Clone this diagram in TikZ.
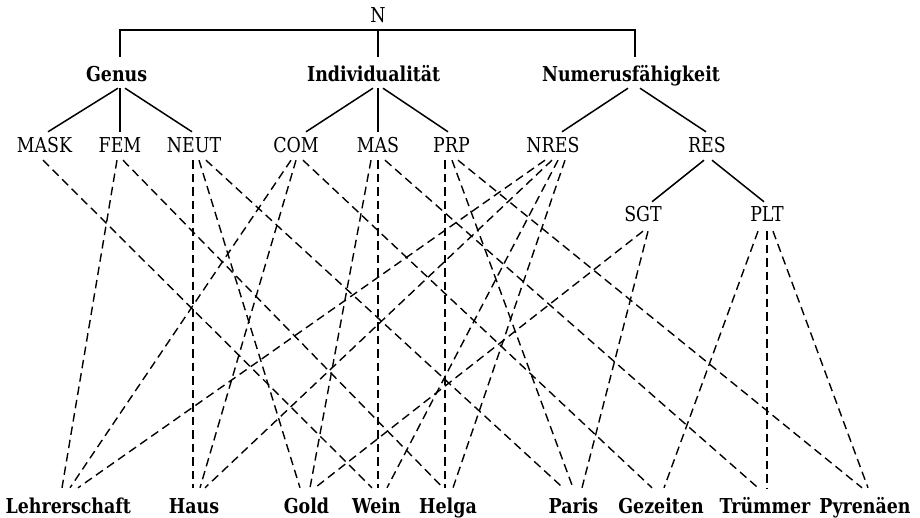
\documentclass[tikz,border=0pt]{standalone}
\usepackage{fontspec}
\setmainfont{DejaVu Serif}[FakeStretch=0.85]
\begin{document}
\begin{tikzpicture}[x=1pt,y=-1pt,
  lab/.style={inner sep=0pt, anchor=base, font=\fontsize{20.5}{24}\selectfont},
  bl/.style={lab, font=\fontsize{20.5}{24}\selectfont\bfseries},
  root/.style={lab, text height=15pt, text depth=7pt},
  cat/.style={bl, text height=25pt, text depth=6pt},
  feat/.style={lab, text height=21pt, text depth=7pt},
  sub/.style={lab, text height=20pt, text depth=9pt},
  leaf/.style={bl, text height=25pt, text depth=5pt},
  tree/.style={line width=1.5pt},
  dl/.style={line width=1.4pt, dash pattern=on 8.5pt off 5pt}]
\useasboundingbox (0,0) rectangle (920,518);
% nodes
\node[root] (N) at (378,23) {N};
\node[cat] (Gen) at (116.6,82) {Genus};
\node[cat] (Ind) at (373.7,82) {Individualität};
\node[cat] (Num) at (631,82) {Numerusfähigkeit};
\node[feat] (MASK) at (44.5,153) {MASK};
\node[feat] (FEM) at (120,153) {FEM};
\node[feat] (NEUT) at (194,153) {NEUT};
\node[feat] (COM) at (296,153) {COM};
\node[feat] (MAS) at (378,153) {MAS};
\node[feat] (PRP) at (451.5,153) {PRP};
\node[feat] (NRES) at (553,153) {NRES};
\node[feat] (RES) at (707,153) {RES};
\node[sub] (SGT) at (643,222) {SGT};
\node[sub] (PLT) at (767,222) {PLT};
\node[leaf] (Lehr) at (68.3,513) {Lehrerschaft};
\node[leaf] (Haus) at (194,513) {Haus};
\node[leaf] (Gold) at (306.5,513) {Gold};
\node[leaf] (Wein) at (376.5,513) {Wein};
\node[leaf] (Helga) at (448,513) {Helga};
\node[leaf] (Paris) at (573.5,513) {Paris};
\node[leaf] (Gez) at (661,513) {Gezeiten};
\node[leaf] (Trum) at (765,513) {Trümmer};
\node[leaf] (Pyr) at (865,513) {Pyrenäen};
% tree edges
\draw[tree] (N.south) -| ([xshift=3.4pt]Gen.north);
\draw[tree] (N.south) -- ([xshift=4.3pt]Ind.north);
\draw[tree] (N.south) -| ([xshift=4pt]Num.north);
\draw[tree] ([xshift=1.4pt]Gen.south) -- ([xshift=3.5pt]MASK.north);
\draw[tree] ([xshift=3.4pt]Gen.south) -- (FEM.north);
\draw[tree] ([xshift=8.4pt]Gen.south) -- ([xshift=-2pt]NEUT.north);
\draw[tree] ([xshift=-0.7pt]Ind.south) -- ([xshift=10pt]COM.north);
\draw[tree] ([xshift=4.3pt]Ind.south) -- (MAS.north);
\draw[tree] ([xshift=9.3pt]Ind.south) -- ([xshift=-3.5pt]PRP.north);
\draw[tree] ([xshift=-3pt]Num.south) -- ([xshift=9pt]NRES.north);
\draw[tree] ([xshift=9pt]Num.south) -- ([xshift=-1pt]RES.north);
\draw[tree] ([xshift=-3pt]RES.south) -- ([xshift=9pt]SGT.north);
\draw[tree] ([xshift=5pt]RES.south) -- ([xshift=-3pt]PLT.north);
% feature links
\draw[dl] ([xshift=-1.5pt]MASK.south) -- ([xshift=-4.5pt]Wein.north);
\draw[dl] ([xshift=-3pt]FEM.south) -- ([xshift=-6.3pt]Lehr.north);
\draw[dl] ([xshift=3pt]FEM.south) -- ([xshift=-5pt]Helga.north);
\draw[dl] ([xshift=-1pt]NEUT.south) -- ([xshift=-1pt]Haus.north);
\draw[dl] ([xshift=5pt]NEUT.south) -- ([xshift=-6.5pt]Gold.north);
\draw[dl] ([xshift=12pt]NEUT.south) -- ([xshift=-10.5pt]Paris.north);
\draw[dl] ([xshift=-5pt]COM.south) -- ([xshift=1.7pt]Lehr.north);
\draw[dl] (COM.south) -- ([xshift=6pt]Haus.north);
\draw[dl] ([xshift=7pt]COM.south) -- ([xshift=-9pt]Gez.north);
\draw[dl] ([xshift=-7pt]MAS.south) -- ([xshift=3.5pt]Gold.north);
\draw[dl] (MAS.south) -- ([xshift=1.5pt]Wein.north);
\draw[dl] ([xshift=7pt]MAS.south) -- ([xshift=-7pt]Trum.north);
\draw[dl] ([xshift=-6.5pt]PRP.south) -- ([xshift=-3pt]Helga.north);
\draw[dl] ([xshift=0.5pt]PRP.south) -- ([xshift=-0.5pt]Paris.north);
\draw[dl] ([xshift=6.5pt]PRP.south) -- ([xshift=-3pt]Pyr.north);
\draw[dl] ([xshift=-8pt]NRES.south) -- ([xshift=9.7pt]Lehr.north);
\draw[dl] ([xshift=-1pt]NRES.south) -- ([xshift=11pt]Haus.north);
\draw[dl] ([xshift=5pt]NRES.south) -- ([xshift=10.5pt]Wein.north);
\draw[dl] ([xshift=12pt]NRES.south) -- ([xshift=5pt]Helga.north);
\draw[dl] (SGT.south) -- ([xshift=8.5pt]Gold.north);
\draw[dl] ([xshift=5pt]SGT.south) -- ([xshift=8.5pt]Paris.north);
\draw[dl] ([xshift=-9pt]PLT.south) -- ([xshift=3pt]Gez.north);
\draw[dl] (PLT.south) -- ([xshift=2pt]Trum.north);
\draw[dl] ([xshift=6pt]PLT.south) -- ([xshift=3pt]Pyr.north);
\end{tikzpicture}
\end{document}
